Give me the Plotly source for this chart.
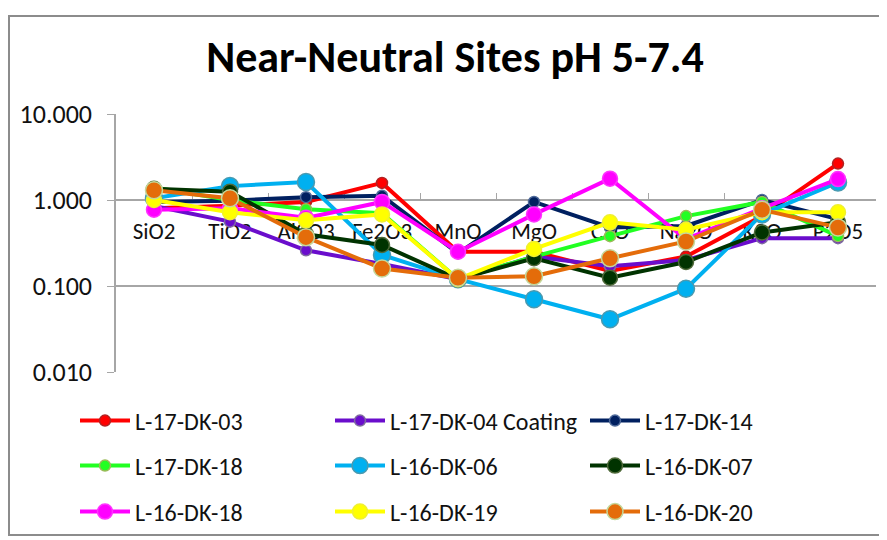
import plotly.graph_objects as go

# oxide categories along the x axis
oxides = ["SiO2", "TiO2", "Al2O3", "Fe2O3", "MnO", "MgO", "CaO", "Na2O", "K2O", "P2O5"]

# normalised values per sample
l17_dk03 = [0.80, 0.86, 0.95, 1.58, 0.25, 0.25, 0.15, 0.22, 0.65, 2.65]
l17_dk04_coating = [0.85, 0.56, 0.26, 0.18, 0.12, 0.22, 0.17, 0.20, 0.36, 0.36]
l17_dk14 = [0.95, 0.98, 1.08, 1.12, 0.24, 0.95, 0.48, 0.50, 1.00, 0.60]
l17_dk18 = [1.40, 1.00, 0.78, 0.70, 0.12, 0.22, 0.38, 0.65, 0.95, 0.38]
l16_dk06 = [1.05, 1.45, 1.62, 0.23, 0.12, 0.07, 0.041, 0.093, 0.68, 1.60]
l16_dk07 = [1.35, 1.25, 0.40, 0.30, 0.12, 0.21, 0.125, 0.19, 0.42, 0.55]
l16_dk18 = [0.77, 0.80, 0.62, 0.95, 0.25, 0.68, 1.77, 0.35, 0.80, 1.75]
l16_dk19 = [1.00, 0.72, 0.58, 0.68, 0.12, 0.27, 0.55, 0.45, 0.72, 0.72]
l16_dk20 = [1.30, 1.05, 0.37, 0.16, 0.125, 0.13, 0.21, 0.33, 0.77, 0.48]

y_tick_values = [0.01, 0.1, 1, 10]
y_tick_labels = ["0.010", "0.100", "1.000", "10.000"]

FONT = "Carlito, 'Liberation Sans Narrow', Calibri, 'DejaVu Sans Condensed', sans-serif"

# name, values, line colour, marker size, marker edge, legend row
SERIES = [
    ("L-17-DK-03", l17_dk03, "#FF0000", 11, "#B22222", "legend"),
    ("L-17-DK-04 Coating", l17_dk04_coating, "#6A0DCC", 11, "#7F6AA0", "legend"),
    ("L-17-DK-14", l17_dk14, "#002060", 11, "#4F6A9A", "legend"),
    ("L-17-DK-18", l17_dk18, "#22FF22", 11, "#9BBB59", "legend2"),
    ("L-16-DK-06", l16_dk06, "#00B0F0", 17, "#4A9AB0", "legend2"),
    ("L-16-DK-07", l16_dk07, "#003300", 15, "#4F6A3A", "legend2"),
    ("L-16-DK-18", l16_dk18, "#FF00FF", 15, "#FF33FF", "legend3"),
    ("L-16-DK-19", l16_dk19, "#FFFF00", 15, "#F0F030", "legend3"),
    ("L-16-DK-20", l16_dk20, "#E46C0A", 17, "#C4D79B", "legend3"),
]

fig = go.Figure()
for name, vals, color, size, edge, leg in SERIES:
    fig.add_trace(go.Scatter(
        x=oxides, y=vals,
        mode="lines+markers",
        name=name,
        legend=leg,
        line=dict(color=color, width=4),
        marker=dict(size=size, color=color, line=dict(color=edge, width=1.5)),
    ))

# the page body adds an 8px offset, so positions are the target pixels minus 8
OFF = 8
W, H = 887, 540
L, T = 116 - OFF, 114 - OFF
PW, PH = 760, 258
R, B = W - L - PW, H - T - PH


def px_x(px):
    return (px - OFF - L) / PW


def px_y(py):
    return (H - B - (py - OFF)) / PH


legend_common = dict(
    orientation="h",
    xanchor="left", yanchor="middle",
    entrywidth=190, entrywidthmode="pixels",
    itemwidth=50,
    font=dict(family=FONT, size=24, color="#111111"),
    bgcolor="rgba(0,0,0,0)",
)

fig.update_layout(
    width=W, height=H,
    margin=dict(l=L, r=R, t=T, b=B, autoexpand=False),
    paper_bgcolor="white", plot_bgcolor="white",
    font=dict(family=FONT, size=23, color="#111111"),
    title=dict(
        text="<b>Near-Neutral Sites pH 5-7.4</b>",
        font=dict(family=FONT, size=44, color="black"),
        x=(455 - OFF) / W, xref="container", xanchor="center",
        y=1 - (57 - OFF) / H, yref="container", yanchor="middle",
    ),
    xaxis=dict(
        type="category",
        anchor="free", position=2 / 3,
        showline=True, linecolor="#A6A6A6", linewidth=1.5,
        showgrid=False,
        ticks="inside", tickson="boundaries", ticklen=6, tickcolor="#A6A6A6",
        ticklabelstandoff=11,
        tickfont=dict(family=FONT, size=23, color="#111111"),
        layer="below traces",
        range=[-0.5, 9.5],
    ),
    yaxis=dict(
        type="log", range=[-2, 1],
        tickvals=y_tick_values, ticktext=y_tick_labels,
        showline=True, linecolor="#A6A6A6", linewidth=1.5,
        showgrid=True, gridcolor="#A6A6A6", gridwidth=1.5,
        ticks="outside", ticklen=7, tickcolor="#A6A6A6",
        ticklabelstandoff=10,
        tickfont=dict(family=FONT, size=26, color="#111111"),
        zeroline=False,
        layer="below traces",
    ),
    legend=dict(x=px_x(75), y=px_y(421), **legend_common),
    legend2=dict(x=px_x(75), y=px_y(466), **legend_common),
    legend3=dict(x=px_x(75), y=px_y(512), **legend_common),
    shapes=[dict(
        type="rect", xref="paper", yref="paper",
        x0=px_x(9), x1=px_x(882), y0=px_y(535), y1=px_y(16),
        line=dict(color="#8C8C8C", width=2), fillcolor="rgba(0,0,0,0)",
        layer="below",
    )],
)

fig.write_html("out.html")
